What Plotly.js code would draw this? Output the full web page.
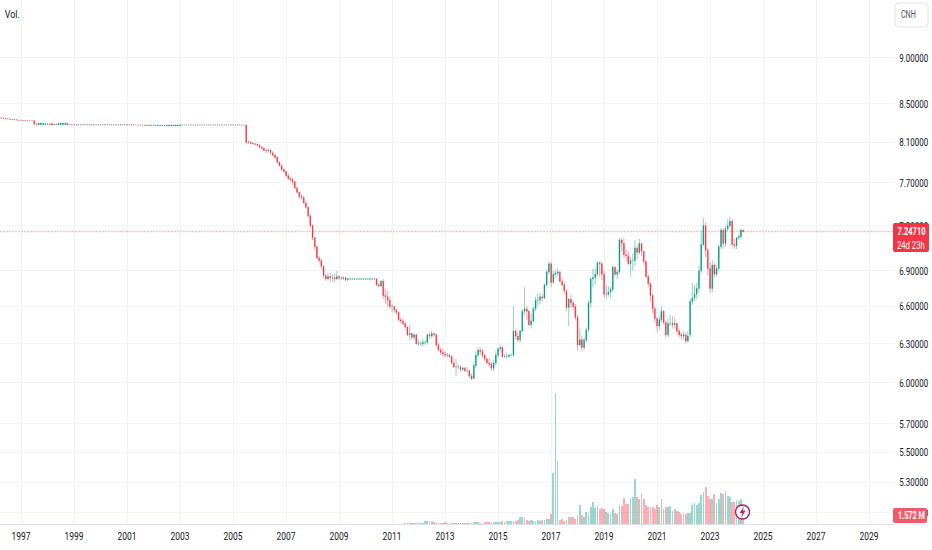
<!DOCTYPE html>
<html><head><meta charset="utf-8">
<script src="https://cdn.plot.ly/plotly-3.0.1.min.js"></script>
<style>html,body{margin:0;padding:0;background:#fff}#c{width:932px;height:550px}</style>
</head><body><div id="c"></div>
<script>
const startYear = 1996, startMonth = 2;
const priceTicks = [9.0,8.5,8.1,7.7,7.3,6.9,6.6,6.3,6.0,5.7,5.5,5.3,5.1];
const yearTicks = [1997,1999,2001,2003,2005,2007,2009,2011,2013,2015,2017,2019,2021,2023,2025,2027,2029];
const lastPriceLabel = "7.24710", countdownLabel = "24d 23h", lastVolumeLabel = "1.572 M", currencyLabel = "CNH", volumeTitle = "Vol.";
const opens = [
8.354,8.352,8.35,8.346,8.342,8.339,8.337,8.334,8.331,8.329,
8.327,8.325,8.323,8.322,8.322,8.321,8.321,8.285,8.28,8.28,8.28,8.285,
8.284,8.288,8.295,8.28,8.281,8.28,8.28,8.28,8.282,8.296,8.278,8.279,
8.278,8.279,8.278,8.279,8.278,8.279,8.278,8.279,8.278,8.279,8.278,8.279,
8.278,8.279,8.278,8.279,8.278,8.279,8.278,8.279,8.278,8.279,8.278,8.279,
8.278,8.279,8.278,8.279,8.277,8.277,8.277,8.276,8.275,8.272,8.272,8.277,
8.274,8.27,8.272,8.27,8.271,8.27,8.268,8.268,8.268,8.268,8.268,8.268,
8.268,8.277,8.278,8.277,8.278,8.277,8.278,8.277,8.278,8.277,8.278,8.277,
8.278,8.277,8.278,8.277,8.278,8.277,8.278,8.277,8.278,8.277,8.278,8.277,
8.278,8.277,8.278,8.277,8.278,8.277,8.277,8.10,8.10,8.09,8.085,8.08,
8.07,8.05,8.04,8.02,8.015,8.02,7.995,7.97,7.95,7.90,7.87,7.83,
7.81,7.77,7.74,7.73,7.71,7.65,7.61,7.57,7.56,7.51,7.47,7.39,
7.30,7.19,7.11,7.01,6.99,6.94,6.86,6.83,6.85,6.84,6.84,6.83,
6.85,6.84,6.835,6.84,6.825,6.83,6.83,6.83,6.83,6.83,6.83,6.83,
6.83,6.83,6.83,6.83,6.83,6.83,6.78,6.77,6.81,6.69,6.68,6.65,
6.60,6.60,6.57,6.55,6.49,6.48,6.46,6.43,6.37,6.38,6.35,6.37,
6.30,6.30,6.30,6.31,6.31,6.37,6.36,6.38,6.37,6.29,6.25,6.23,
6.22,6.21,6.21,6.20,6.15,6.12,6.12,6.12,6.10,6.11,6.09,6.09,
6.05,6.03,6.13,6.21,6.25,6.24,6.21,6.18,6.15,6.14,6.11,6.15,
6.21,6.26,6.27,6.20,6.20,6.20,6.21,6.21,6.40,6.36,6.33,6.40,
6.56,6.58,6.56,6.45,6.48,6.58,6.65,6.65,6.68,6.67,6.78,6.89,
6.96,6.80,6.87,6.88,6.89,6.81,6.78,6.73,6.59,6.66,6.63,6.60,
6.51,6.29,6.33,6.27,6.33,6.41,6.63,6.83,6.84,6.87,6.97,6.96,
6.87,6.70,6.70,6.72,6.74,6.93,6.87,6.89,7.17,7.14,7.04,7.03,
6.96,6.99,6.99,7.10,7.06,7.14,7.07,6.98,6.85,6.79,6.69,6.58,
6.50,6.44,6.49,6.56,6.47,6.37,6.46,6.46,6.45,6.46,6.40,6.37,
6.36,6.37,6.32,6.37,6.64,6.67,6.70,6.75,6.90,7.13,7.30,7.08,
6.92,6.75,6.95,6.87,6.92,7.11,7.26,7.14,7.27,7.30,7.34,7.13,
7.12,7.19,7.20,7.26];
const highs = [
8.355,8.353,8.351,8.347,8.343,8.34,8.338,8.335,8.332,8.33,
8.327,8.325,8.323,8.323,8.322,8.322,8.322,8.29,8.298,8.30,8.297,8.295,
8.295,8.292,8.297,8.287,8.288,8.298,8.30,8.299,8.298,8.298,8.28,8.28,
8.28,8.28,8.28,8.28,8.28,8.28,8.28,8.28,8.28,8.28,8.28,8.28,
8.28,8.28,8.28,8.28,8.28,8.28,8.28,8.28,8.28,8.28,8.28,8.28,
8.28,8.28,8.28,8.28,8.278,8.278,8.278,8.277,8.276,8.277,8.278,8.278,
8.278,8.275,8.277,8.275,8.277,8.275,8.277,8.278,8.278,8.278,8.278,8.278,
8.278,8.278,8.279,8.278,8.279,8.278,8.279,8.278,8.279,8.278,8.279,8.278,
8.279,8.278,8.279,8.278,8.279,8.278,8.279,8.278,8.279,8.278,8.279,8.278,
8.279,8.278,8.279,8.278,8.279,8.278,8.277,8.12,8.11,8.10,8.09,8.09,
8.08,8.06,8.05,8.03,8.04,8.03,8.01,7.98,7.96,7.91,7.88,7.84,
7.82,7.79,7.76,7.75,7.72,7.67,7.62,7.60,7.58,7.53,7.48,7.40,
7.31,7.20,7.12,7.03,7.00,6.95,6.87,6.88,6.88,6.87,6.88,6.90,
6.86,6.85,6.85,6.85,6.84,6.84,6.84,6.84,6.84,6.84,6.84,6.84,
6.84,6.84,6.84,6.84,6.84,6.84,6.80,6.82,6.83,6.75,6.73,6.68,
6.62,6.60,6.58,6.56,6.51,6.50,6.47,6.44,6.45,6.39,6.38,6.38,
6.33,6.32,6.34,6.33,6.38,6.39,6.40,6.39,6.38,6.31,6.27,6.26,
6.24,6.23,6.22,6.21,6.18,6.18,6.14,6.13,6.12,6.12,6.12,6.10,
6.07,6.15,6.24,6.27,6.27,6.26,6.22,6.19,6.19,6.16,6.17,6.24,
6.27,6.29,6.28,6.22,6.23,6.22,6.22,6.60,6.42,6.39,6.41,6.58,
6.76,6.60,6.57,6.54,6.60,6.68,6.71,6.71,6.70,6.79,6.91,6.98,
6.98,6.90,6.91,6.92,6.90,6.84,6.80,6.74,6.67,6.70,6.65,6.62,
6.53,6.42,6.36,6.35,6.43,6.65,6.85,6.92,6.92,6.98,6.98,6.98,
6.90,6.78,6.77,6.76,6.95,6.94,6.91,7.19,7.19,7.19,7.09,7.07,
7.02,7.05,7.17,7.12,7.18,7.14,7.07,6.99,6.87,6.80,6.70,6.60,
6.51,6.52,6.60,6.57,6.48,6.50,6.53,6.52,6.51,6.47,6.42,6.39,
6.40,6.39,6.40,6.66,6.80,6.78,6.80,6.94,7.26,7.37,7.33,7.10,
6.97,6.99,6.97,6.95,7.13,7.28,7.28,7.30,7.36,7.38,7.36,7.18,
7.20,7.23,7.27,7.26];
const lows = [
8.351,8.349,8.345,8.341,8.338,8.336,8.333,8.33,8.328,8.326,
8.325,8.323,8.321,8.321,8.32,8.32,8.285,8.275,8.277,8.278,8.278,8.28,
8.28,8.28,8.274,8.278,8.279,8.278,8.278,8.278,8.28,8.277,8.277,8.277,
8.277,8.277,8.277,8.277,8.277,8.277,8.277,8.277,8.277,8.277,8.277,8.277,
8.277,8.277,8.277,8.277,8.277,8.277,8.277,8.277,8.277,8.277,8.277,8.277,
8.277,8.277,8.277,8.276,8.276,8.276,8.275,8.274,8.271,8.27,8.27,8.273,
8.27,8.268,8.27,8.268,8.27,8.268,8.266,8.266,8.266,8.266,8.266,8.266,
8.266,8.276,8.276,8.276,8.276,8.276,8.276,8.276,8.276,8.276,8.276,8.276,
8.276,8.276,8.276,8.276,8.276,8.276,8.276,8.276,8.276,8.276,8.276,8.276,
8.276,8.276,8.276,8.276,8.276,8.276,8.08,8.085,8.08,8.08,8.07,8.06,
8.04,8.03,8.01,7.99,8.00,7.98,7.96,7.93,7.89,7.86,7.82,7.80,
7.76,7.73,7.72,7.68,7.64,7.60,7.55,7.54,7.50,7.46,7.37,7.28,
7.17,7.08,7.00,6.97,6.91,6.84,6.81,6.82,6.80,6.81,6.80,6.82,
6.82,6.82,6.82,6.81,6.81,6.82,6.82,6.82,6.82,6.82,6.82,6.82,
6.82,6.82,6.82,6.82,6.82,6.77,6.76,6.76,6.66,6.62,6.60,6.58,
6.55,6.55,6.53,6.48,6.46,6.45,6.42,6.36,6.33,6.33,6.33,6.29,
6.28,6.28,6.28,6.29,6.30,6.34,6.34,6.35,6.27,6.24,6.21,6.20,
6.19,6.19,6.19,6.14,6.11,6.05,6.10,6.08,6.09,6.08,6.07,6.04,
6.02,6.03,6.11,6.19,6.21,6.19,6.16,6.14,6.12,6.09,6.09,6.13,
6.19,6.24,6.19,6.19,6.18,6.19,6.20,6.20,6.33,6.31,6.31,6.39,
6.53,6.49,6.44,6.42,6.47,6.56,6.60,6.62,6.64,6.66,6.76,6.87,
6.76,6.79,6.85,6.86,6.80,6.77,6.70,6.56,6.44,6.59,6.57,6.49,
6.25,6.28,6.24,6.25,6.31,6.39,6.59,6.76,6.78,6.85,6.85,6.82,
6.67,6.66,6.68,6.67,6.72,6.85,6.83,6.87,7.07,7.01,6.98,6.95,
6.85,6.90,6.94,7.00,7.04,7.03,6.95,6.84,6.76,6.64,6.54,6.47,
6.39,6.41,6.47,6.45,6.35,6.35,6.44,6.42,6.42,6.38,6.35,6.33,
6.33,6.30,6.31,6.35,6.61,6.64,6.66,6.72,6.88,7.12,7.02,6.86,
6.71,6.72,6.84,6.85,6.90,7.09,7.09,7.11,7.25,7.28,7.11,7.09,
7.09,7.17,7.18,7.24];
const closes = [
8.352,8.35,8.346,8.342,8.339,8.337,8.334,8.331,8.329,8.327,
8.325,8.323,8.322,8.322,8.321,8.321,8.285,8.278,8.296,8.298,8.295,8.29,
8.288,8.284,8.276,8.283,8.285,8.296,8.298,8.297,8.296,8.278,8.279,8.278,
8.279,8.278,8.279,8.278,8.279,8.278,8.279,8.278,8.279,8.278,8.279,8.278,
8.279,8.278,8.279,8.278,8.279,8.278,8.279,8.278,8.279,8.278,8.279,8.278,
8.279,8.278,8.279,8.277,8.277,8.277,8.276,8.275,8.272,8.276,8.277,8.274,
8.277,8.274,8.276,8.274,8.276,8.274,8.276,8.277,8.277,8.277,8.277,8.277,
8.277,8.278,8.277,8.278,8.277,8.278,8.277,8.278,8.277,8.278,8.277,8.278,
8.277,8.278,8.277,8.278,8.277,8.278,8.277,8.278,8.277,8.278,8.277,8.278,
8.277,8.278,8.277,8.278,8.277,8.277,8.10,8.10,8.09,8.085,8.08,8.07,
8.05,8.04,8.02,8.015,8.02,7.995,7.97,7.95,7.90,7.87,7.83,7.81,
7.77,7.74,7.73,7.71,7.65,7.61,7.57,7.56,7.51,7.47,7.39,7.30,
7.19,7.11,7.01,6.99,6.94,6.86,6.83,6.85,6.84,6.84,6.83,6.85,
6.84,6.835,6.84,6.825,6.83,6.83,6.83,6.83,6.83,6.83,6.83,6.83,
6.83,6.83,6.83,6.83,6.83,6.78,6.77,6.81,6.69,6.68,6.65,6.60,
6.60,6.57,6.55,6.49,6.48,6.46,6.43,6.37,6.38,6.35,6.37,6.30,
6.30,6.30,6.31,6.31,6.37,6.36,6.38,6.37,6.29,6.25,6.23,6.22,
6.21,6.21,6.20,6.15,6.12,6.12,6.12,6.10,6.11,6.09,6.09,6.05,
6.03,6.13,6.21,6.25,6.24,6.21,6.18,6.15,6.14,6.11,6.15,6.21,
6.26,6.27,6.20,6.20,6.20,6.21,6.21,6.40,6.36,6.33,6.40,6.56,
6.58,6.56,6.45,6.48,6.58,6.65,6.65,6.68,6.67,6.78,6.89,6.96,
6.80,6.87,6.88,6.89,6.81,6.78,6.73,6.59,6.66,6.63,6.60,6.51,
6.29,6.33,6.27,6.33,6.41,6.63,6.83,6.84,6.87,6.97,6.96,6.87,
6.70,6.70,6.72,6.74,6.93,6.87,6.89,7.17,7.14,7.04,7.03,6.96,
6.99,6.99,7.10,7.06,7.14,7.07,6.98,6.85,6.79,6.69,6.58,6.50,
6.44,6.49,6.56,6.47,6.37,6.46,6.46,6.45,6.46,6.40,6.37,6.36,
6.37,6.32,6.36,6.64,6.67,6.70,6.75,6.90,7.13,7.30,7.08,6.92,
6.75,6.95,6.87,6.92,7.11,7.26,7.14,7.27,7.30,7.34,7.13,7.12,
7.19,7.20,7.26,7.2471];
const volumes = [
.04,.04,.04,.04,.04,.04,.04,.04,.04,.04,
.04,.04,.04,.04,.04,.04,.04,.04,.04,.04,.04,.04,
.04,.04,.04,.04,.04,.04,.04,.04,.04,.04,.04,.04,
.04,.04,.04,.04,.04,.04,.04,.04,.04,.04,.04,.04,
.04,.04,.04,.04,.04,.04,.04,.04,.04,.04,.04,.04,
.04,.04,.04,.04,.04,.04,.04,.04,.04,.04,.04,.04,
.04,.04,.04,.04,.04,.04,.04,.04,.04,.04,.04,.04,
.04,.04,.04,.04,.04,.04,.04,.04,.04,.04,.04,.04,
.04,.04,.04,.04,.04,.04,.04,.04,.04,.04,.04,.04,
.04,.04,.04,.04,.04,.04,.04,.04,.04,.04,.04,.04,
.04,.04,.04,.04,.04,.04,.04,.04,.04,.04,.04,.04,
.04,.04,.04,.04,.04,.04,.04,.04,.04,.04,.04,.04,
.04,.04,.04,.04,.04,.04,.04,.04,.04,.04,.04,.04,
.04,.04,.04,.04,.04,.04,.04,.04,.04,.04,.04,.04,
.04,.04,.04,.04,.04,.04,.04,.04,.04,.04,.04,.04,
.04,.04,.04,.04,.04,.04,.1,.1,.1,.12,.12,.12,
.13,.15,.19,.57,.57,.57,.48,.38,.19,.19,.19,.23,
.38,.19,.15,.19,.23,.19,.19,.19,.19,.19,.19,.15,
.19,.38,.38,.29,.19,.19,.29,.38,.38,.29,.38,.38,
.38,.38,.48,.38,.57,.57,.57,.57,.57,.76,1.24,1.24,
1.05,.67,.57,.67,.57,.57,.67,.57,.67,.76,.95,.95,
1.9,9.7,24.9,12,.76,.95,.57,.67,1.33,1.33,1.33,.95,
1.71,3.6,1.71,1.33,2.28,2.09,3.23,4.18,3.04,3.5,2.76,3.04,
2.85,2.28,2.09,1.9,2.85,2.09,1.9,3.7,3.42,4.94,3.8,3.8,
4.85,5.04,8.55,5.13,4.75,5.7,4.75,3.61,3.14,3.23,3.23,2.85,
3.61,3.14,4.75,2.76,3.14,3.23,3.42,2.47,2.76,2.38,2.28,1.9,
1.9,1.9,2.09,2.09,3.61,3.99,3.61,3.99,5.42,6.08,6.94,5.32,
4.75,4.75,5.7,3.99,4.75,5.89,5.7,6.27,5.32,5.13,4.18,4.18,
4.56,4.37,4.75,1.572];

const up = "#089981", down = "#F23645";
const upVol = "rgba(8,153,129,0.4)", downVol = "rgba(242,54,69,0.4)";
const grid = "#f2f3f7", ink = "#131722";
const font = "Roboto,'Liberation Sans',sans-serif";

const dates = closes.map((_, i) => {
  const t = new Date(Date.UTC(startYear, startMonth + i, 1));
  return t.toISOString().slice(0, 10);
});
const bodyHigh = closes.map((c, i) => Math.max(c, opens[i]));
const bodyLow = closes.map((c, i) => Math.min(c, opens[i]));
const PW = 895, PH = 524;
const px = v => v / PW, py = v => 1 - v / PH;
const yearTickDates = yearTicks.map(y => y + "-01-01");
const xRange = ["1996-03-16", "2029-12-24"];
const lastPrice = closes[closes.length - 1];

function roundRect(x0, y0, x1, y1, r) {
  const X = px, Y = py;
  return `M${X(x0+r)},${Y(y0)} L${X(x1-r)},${Y(y0)} Q${X(x1)},${Y(y0)} ${X(x1)},${Y(y0+r)} L${X(x1)},${Y(y1-r)} Q${X(x1)},${Y(y1)} ${X(x1-r)},${Y(y1)} L${X(x0+r)},${Y(y1)} Q${X(x0)},${Y(y1)} ${X(x0)},${Y(y1-r)} L${X(x0)},${Y(y0+r)} Q${X(x0)},${Y(y0)} ${X(x0+r)},${Y(y0)} Z`;
}
function boltPath() {
  const pts = [[744.2,506],[739.6,513],[742.3,513],[741,518.2],[745.6,510.6],[742.8,510.6]];
  return pts.map((p, i) => (i ? "L" : "M") + px(p[0]) + "," + py(p[1])).join(" ") + " Z";
}
// wick traces: thin high-low whiskers, paler than the bodies
function wicks(keep, color) {
  const idx = closes.map((_, i) => i).filter(i => keep(i));
  return { type: "scatter", mode: "markers", x: idx.map(i => dates[i]), y: idx.map(i => closes[i]), hoverinfo: "skip",
    marker: { size: 1, opacity: 0 },
    error_y: { type: "data", symmetric: false, array: idx.map(i => highs[i] - closes[i]), arrayminus: idx.map(i => closes[i] - lows[i]),
      color: color, thickness: 1, width: 0 } };
}

const traces = [
  { type: "bar", x: dates, y: volumes, yaxis: "y2", width: 2.05e9, hoverinfo: "skip",
    marker: { color: closes.map((c, i) => c >= opens[i] ? upVol : downVol), line: { width: 0 } } },
  { type: "scatter", mode: "lines", x: xRange, y: [lastPrice, lastPrice], hoverinfo: "skip",
    line: { color: "rgba(242,54,69,0.3)", width: 1.5, dash: "2px,1px" } },
  wicks(i => closes[i] >= opens[i], "rgba(8,153,129,0.45)"),
  wicks(i => closes[i] < opens[i], "rgba(242,54,69,0.45)"),
  { type: "candlestick", x: dates, open: opens, high: bodyHigh, low: bodyLow, close: closes, width: 1.3e9, whiskerwidth: 0, hoverinfo: "skip",
    increasing: { line: { color: up, width: 0.3 }, fillcolor: up },
    decreasing: { line: { color: down, width: 0.3 }, fillcolor: down } }
];

const layout = {
  width: 932, height: 550, showlegend: false, paper_bgcolor: "#fff", plot_bgcolor: "#fff",
  margin: { l: 0, r: 37, t: 0, b: 26, pad: 0 },
  font: { family: font, size: 11, color: ink },
  bargap: 0,
  xaxis: { type: "date", range: xRange, tickmode: "array", tickvals: yearTickDates, ticktext: yearTicks.map(String),
    showgrid: true, gridcolor: grid, gridwidth: 1, zeroline: false, showline: true, linecolor: "#dcdfee", linewidth: 1,
    ticks: "outside", ticklen: 2, tickcolor: "rgba(0,0,0,0)", tickfont: { family: font, size: 11, color: ink },
    rangeslider: { visible: false } },
  yaxis: { type: "log", side: "right", range: [Math.log10(5.03), Math.log10(9.675)], tickmode: "array",
    tickvals: priceTicks, ticktext: priceTicks.map(v => v.toFixed(5)),
    showgrid: true, gridcolor: grid, gridwidth: 1, zeroline: false, showline: false,
    ticks: "outside", ticklen: 1, tickcolor: "rgba(0,0,0,0)", tickfont: { family: font, size: 11, color: ink } },
  yaxis2: { overlaying: "y", side: "right", range: [0, 99.56], visible: false, showgrid: false, zeroline: false },
  shapes: [
    { type: "path", xref: "paper", yref: "paper", path: roundRect(893, 223, 929, 252, 2), fillcolor: down, line: { width: 0 }, layer: "above" },
    { type: "path", xref: "paper", yref: "paper", path: roundRect(893, 508, 927, 523, 2), fillcolor: "#F55866", line: { width: 0 }, layer: "above" },
    { type: "path", xref: "paper", yref: "paper", path: roundRect(895, 3, 928, 27, 4), fillcolor: "#fff", line: { color: "#e0e3eb", width: 1 }, layer: "above" },
    { type: "circle", xref: "paper", yref: "paper", x0: px(735.5), x1: px(749.5), y0: py(505), y1: py(519), fillcolor: "#fff", line: { color: "#a3235a", width: 1.4 }, layer: "above" },
    { type: "path", xref: "paper", yref: "paper", path: boltPath(), fillcolor: "#b02a63", line: { width: 0 }, layer: "above" }
  ],
  annotations: [
    { xref: "paper", yref: "paper", x: px(1), y: py(15), xanchor: "left", yanchor: "middle", text: volumeTitle, showarrow: false, font: { family: font, size: 11, color: ink } },
    { xref: "paper", yref: "paper", x: px(908.5), y: py(15), xanchor: "center", yanchor: "middle", text: currencyLabel, showarrow: false, font: { family: font, size: 11, color: "#50535e" } },
    { xref: "paper", yref: "paper", x: px(911.5), y: py(231), xanchor: "center", yanchor: "middle", text: lastPriceLabel, showarrow: false, font: { family: font, size: 11, weight: 700, color: "#fff" } },
    { xref: "paper", yref: "paper", x: px(911.5), y: py(245), xanchor: "center", yanchor: "middle", text: countdownLabel, showarrow: false, font: { family: font, size: 11, color: "#fff" } },
    { xref: "paper", yref: "paper", x: px(911), y: py(515.5), xanchor: "center", yanchor: "middle", text: lastVolumeLabel, showarrow: false, font: { family: font, size: 11, weight: 700, color: "#fff" } }
  ]
};
const textWidths = { [volumeTitle]: 15, [currencyLabel]: 15, [lastPriceLabel]: 28, [countdownLabel]: 28, [lastVolumeLabel]: 27 };
function squeeze(t, target) {
  const w = t.getComputedTextLength();
  if (!w || w <= target) return;
  const s = target / w, x = parseFloat(t.getAttribute("x")) || 0;
  const prior = t.getAttribute("transform") || "";
  t.setAttribute("transform", `${prior} translate(${x * (1 - s)},0) scale(${s},1)`);
}
Plotly.newPlot("c", traces, layout, { displayModeBar: false, staticPlot: true }).then(gd => {
  gd.querySelectorAll(".xtick text").forEach(t => squeeze(t, 19));
  gd.querySelectorAll(".ytick text").forEach(t => squeeze(t, 29));
  gd.querySelectorAll(".annotation-text").forEach(t => { const w = textWidths[t.textContent]; if (w) squeeze(t, w); });
});
</script>
</body></html>
